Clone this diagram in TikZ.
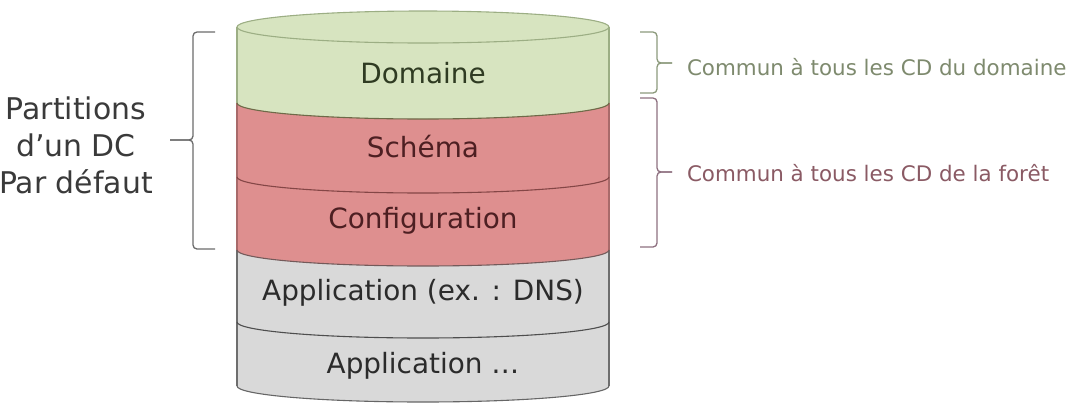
\documentclass[tikz,border=0pt]{standalone}
\usepackage{fontspec}
\setmainfont{DejaVu Sans}

\definecolor{domfill}{HTML}{D7E4C0}
\definecolor{redfill}{HTML}{DE8F8F}
\definecolor{grayfill}{HTML}{D9D9D9}
\definecolor{domedge}{HTML}{9CAE84}
\definecolor{rededge}{HTML}{A86A6A}
\definecolor{grayedge}{HTML}{6E6E6E}
\definecolor{domredline}{HTML}{6E6A48}
\definecolor{redredline}{HTML}{844646}
\definecolor{redgrayline}{HTML}{745A5A}
\definecolor{graygrayline}{HTML}{4E4E4E}
\definecolor{bottomline}{HTML}{666666}
\definecolor{domtext}{HTML}{2F3B22}
\definecolor{redtext}{HTML}{4D1F22}
\definecolor{graytext}{HTML}{2B2B2B}
\definecolor{lefttext}{HTML}{3A3A3A}
\definecolor{leftbrace}{HTML}{6C6C6C}
\definecolor{domnote}{HTML}{7E8A6E}
\definecolor{forestnote}{HTML}{8A5A64}
\definecolor{domnotebrace}{HTML}{8C9A7C}
\definecolor{forestbrace}{HTML}{8E7080}

% one slice of the cylinder: top side level, bottom side level, fill colour
\newcommand\cylslice[3]{%
  \fill[#3] (237,#1) arc[start angle=180,end angle=360,x radius=186bp,y radius=16bp]
    -- (609,#2) arc[start angle=0,end angle=-180,x radius=186bp,y radius=16bp] -- cycle;}
% front edge of a slice boundary
\newcommand\cylfront[2]{%
  \draw[#2] (237,#1) arc[start angle=180,end angle=360,x radius=186bp,y radius=16bp];}

\begin{document}
\begin{tikzpicture}[x=1bp,y=-1bp,
  every node/.style={inner sep=0pt,outer sep=0pt},
  cyltext/.style={font=\fontsize{28}{34}\selectfont,anchor=base},
  notetext/.style={font=\fontsize{21.5}{26}\selectfont,anchor=base west},
  bracepath/.style={line width=1.3bp,rounded corners=4bp},
  edge/.style={line width=1.1bp}]
\useasboundingbox (0,0) rectangle (1076,403);

% slices, top to bottom
\cylslice{27}{103}{domfill}
\fill[domfill] (423,27) ellipse[x radius=186bp,y radius=16bp];
\cylslice{103}{177}{redfill}
\cylslice{177}{250}{redfill}
\cylslice{250}{322}{grayfill}
\cylslice{322}{386}{grayfill}

% side edges
\draw[edge,domedge] (237,27) -- (237,103) (609,27) -- (609,103);
\draw[edge,rededge] (237,103) -- (237,250) (609,103) -- (609,250);
\draw[edge,grayedge] (237,250) -- (237,386) (609,250) -- (609,386);

% top face and slice boundaries
\draw[edge,domedge] (423,27) ellipse[x radius=186bp,y radius=16bp];
\cylfront{103}{edge,domredline}
\cylfront{177}{edge,redredline}
\cylfront{250}{edge,redgrayline}
\cylfront{322}{edge,graygrayline}
\cylfront{386}{edge,bottomline}

% slice labels
\node[cyltext,text=domtext]  (dom)  at (423,83)  {Domaine};
\node[cyltext,text=redtext]  (sch)  at (423,157) {Schéma};
\node[cyltext,text=redtext]  (conf) at (423,228) {Configuration};
\node[cyltext,text=graytext] (dns)  at (423,300) {Application (ex. : DNS)};
\node[cyltext,text=graytext] (app)  at (423,373) {Application …};

% left label and its brace
\node[font=\fontsize{30}{37}\selectfont,align=center,text=lefttext] (part) at (76,145)
  {Partitions\\d’un DC\\Par défaut};
\coordinate (ltip) at (170,140);
\draw[bracepath,leftbrace] (215,32) -- (193,32) -- (193,140) -- (ltip);
\draw[bracepath,leftbrace] (ltip) -- (193,140) -- (193,249) -- (215,249);

% right notes and their braces
\coordinate (rtip1) at (672,63);
\coordinate (rtip2) at (672,172);
\draw[bracepath,domnotebrace] (640,32) -- (657,32) -- (657,63) -- (rtip1);
\draw[bracepath,domnotebrace] (rtip1) -- (657,63) -- (657,93) -- (640,93);
\draw[bracepath,forestbrace] (640,98) -- (657,98) -- (657,172) -- (rtip2);
\draw[bracepath,forestbrace] (rtip2) -- (657,172) -- (657,247) -- (640,247);
\node[notetext,text=domnote]    (n1) at (687,75)  {Commun à tous les CD du domaine};
\node[notetext,text=forestnote] (n2) at (687,181) {Commun à tous les CD de la forêt};
\end{tikzpicture}
\end{document}
